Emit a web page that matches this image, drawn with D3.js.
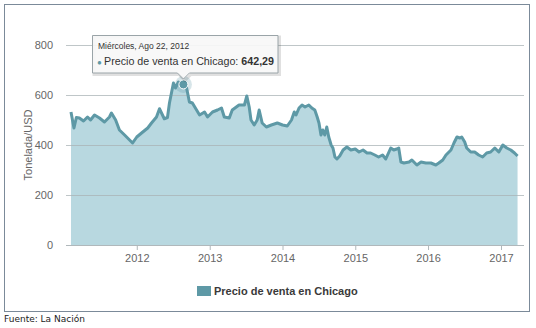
<!DOCTYPE html>
<html><head><meta charset="utf-8">
<script src="https://cdn.jsdelivr.net/npm/d3@7"></script>
<style>
html,body{margin:0;padding:0;background:#fff;}
svg{display:block;font-family:"Liberation Sans",Arial,sans-serif;}
</style></head>
<body>
<svg id="c" width="536" height="328"></svg>
<script>
const dates = ["2011-02-05","2011-02-20","2011-03-04","2011-03-19","2011-04-09","2011-04-29","2011-05-14","2011-06-03","2011-06-28","2011-07-23","2011-08-17","2011-08-27","2011-09-17","2011-10-06","2011-11-01","2011-11-26","2011-12-11","2012-01-01","2012-01-25","2012-02-25","2012-03-15","2012-04-09","2012-04-24","2012-05-18","2012-06-03","2012-06-13","2012-07-03","2012-07-13","2012-07-28","2012-08-22","2012-09-06","2012-09-21","2012-10-06","2012-10-27","2012-11-11","2012-12-06","2012-12-21","2013-01-15","2013-02-09","2013-03-01","2013-03-15","2013-04-09","2013-04-24","2013-05-28","2013-06-24","2013-07-06","2013-07-18","2013-07-27","2013-08-12","2013-08-27","2013-09-06","2013-09-21","2013-10-12","2013-11-06","2013-12-06","2014-01-01","2014-01-25","2014-02-15","2014-03-01","2014-03-10","2014-03-25","2014-04-09","2014-04-24","2014-05-13","2014-05-28","2014-06-12","2014-06-24","2014-07-03","2014-07-13","2014-07-22","2014-08-01","2014-08-11","2014-08-21","2014-09-02","2014-09-11","2014-09-21","2014-10-01","2014-10-15","2014-11-01","2014-11-20","2014-12-10","2015-01-01","2015-01-20","2015-02-09","2015-03-01","2015-03-19","2015-04-09","2015-04-28","2015-05-18","2015-06-03","2015-06-28","2015-07-13","2015-07-28","2015-08-07","2015-08-18","2015-09-02","2015-09-28","2015-10-12","2015-11-06","2015-11-27","2015-12-21","2016-01-15","2016-02-09","2016-02-24","2016-03-15","2016-03-31","2016-04-25","2016-05-10","2016-05-25","2016-06-09","2016-06-18","2016-07-03","2016-07-13","2016-08-02","2016-08-22","2016-09-11","2016-10-01","2016-10-21","2016-11-10","2016-12-01","2016-12-21","2017-01-10","2017-01-30","2017-02-19","2017-03-10","2017-03-25"];
const prices = [532,468,510,508,496,512,500,520,508,492,512,528,500,460,440,420,408,432,448,468,488,512,545,505,510,568,648,628,652,642.29,632,572,568,540,520,532,512,532,540,548,512,508,540,560,560,596,552,500,480,500,540,488,472,480,488,480,476,500,532,520,548,560,552,560,548,540,512,488,440,460,440,472,432,400,388,352,344,356,380,392,380,384,372,380,368,368,360,352,360,344,388,380,384,388,332,328,332,340,320,332,328,328,320,328,340,360,380,408,432,428,432,412,388,372,372,360,352,368,372,388,372,400,388,380,368,356];
const yTicks = [0,200,400,600,800];
const xTickYears = [2012,2013,2014,2015,2016,2017];
const seriesName = "Precio de venta en Chicago";
const yTitle = "Tonelada/USD";
const tooltipDate = "2012-08-22";
const tooltipTitle = "Miércoles, Ago 22, 2012";
const tooltipValue = "642,29";
const source = "Fuente: La Nación";

const parse = d3.timeParse("%Y-%m-%d");
const data = dates.map((d,i)=>({date:parse(d), v:prices[i]}));

const svg = d3.select("#c");
const lineCol = "#5e99a6", fillCol = "#b8d8e0";

// frame
svg.append("rect").attr("x",4.5).attr("y",4.5).attr("width",525).attr("height",307)
  .attr("fill","#fff").attr("stroke","#7b8a99").attr("stroke-width",1);

const x = d3.scaleTime().domain([new Date(2011,0,1), new Date(2017,0,1)]).range([64,501]);
const y = d3.scaleLinear().domain([0,800]).range([245,45]);
const plotL = 66, plotR = 524;

// area
svg.append("path").datum(data)
  .attr("d", d3.area().x(d=>x(d.date)).y0(y(0)).y1(d=>y(d.v)))
  .attr("fill", fillCol);

// gridlines
const yAxis = d3.axisLeft(y).tickValues(yTicks).tickSize(-(plotR-plotL)).tickPadding(13);
const gy = svg.append("g").attr("transform",`translate(${plotL},0)`).call(yAxis);
gy.select(".domain").remove();
gy.selectAll(".tick line").attr("stroke","#a9b3b6").attr("stroke-opacity",0.75).attr("stroke-width",1);
gy.selectAll(".tick text").attr("fill","#666").attr("font-size","11px").attr("font-family","Liberation Sans, Arial, sans-serif");

// line
svg.append("path").datum(data)
  .attr("d", d3.line().x(d=>x(d.date)).y(d=>y(d.v)))
  .attr("fill","none").attr("stroke",lineCol).attr("stroke-width",3).attr("stroke-linejoin","round");

// x axis
const xAxis = d3.axisBottom(x).tickValues(xTickYears.map(yr=>new Date(yr,0,1))).tickFormat(d3.timeFormat("%Y")).tickSize(5).tickPadding(4);
const gx = svg.append("g").attr("transform",`translate(0,${y(0)})`).call(xAxis);
gx.select(".domain").attr("d",`M${plotL},0.5H${plotR}`).attr("stroke","#b0b8bb");
gx.selectAll(".tick line").attr("stroke","#b0b8bb");
gx.selectAll(".tick text").attr("fill","#666").attr("font-size","11px").attr("font-family","Liberation Sans, Arial, sans-serif");

// y title
svg.append("text").attr("transform","translate(32,145) rotate(-90)")
  .attr("text-anchor","middle").attr("fill","#666").attr("font-size","11px").text(yTitle);

// hover marker
const tp = data.find(d=>+d.date===+parse(tooltipDate));
const mx = x(tp.date), my = y(tp.v);
svg.append("circle").attr("cx",mx).attr("cy",my).attr("r",8.5).attr("fill",lineCol).attr("fill-opacity",0.25);
svg.append("circle").attr("cx",mx).attr("cy",my).attr("r",4.5).attr("fill",lineCol).attr("stroke","#fff").attr("stroke-width",1);

// tooltip
const tx0 = 92, ty0 = 35, tw = 186, th = 38;
const tg = svg.append("g");
const tipPath = `M${tx0+0.5},${ty0+0.5}H${tx0+tw}V${ty0+th}H${mx+6}L${mx},${ty0+th+6}L${mx-6},${ty0+th}H${tx0+0.5}Z`;
tg.append("path").attr("d",tipPath).attr("transform","translate(1.5,1.5)").attr("fill","none").attr("stroke","#000").attr("stroke-opacity",0.12).attr("stroke-width",3);
tg.append("path").attr("d",tipPath).attr("fill","#f7f7f7").attr("fill-opacity",0.92).attr("stroke","#9aa4a8").attr("stroke-width",1);
tg.append("text").attr("x",tx0+6).attr("y",ty0+14).attr("font-size","8.5px").attr("fill","#333").text(tooltipTitle);
const t2 = tg.append("text").attr("x",tx0+5).attr("y",ty0+30).attr("font-size","10.7px").attr("fill","#333");
t2.append("tspan").attr("fill",lineCol).text("● ").attr("font-size","8px");
t2.append("tspan").text(seriesName + ": ");
t2.append("tspan").attr("font-weight","bold").text(tooltipValue);

// legend
svg.append("rect").attr("x",197).attr("y",286).attr("width",14).attr("height",10).attr("fill",lineCol);
svg.append("text").attr("x",214).attr("y",295).attr("font-size","11px").attr("font-weight","bold").attr("fill","#3a3a3a").text(seriesName);

// source
svg.append("text").attr("x",4).attr("y",322).attr("font-size","9px").attr("fill","#222").attr("font-family","DejaVu Sans, sans-serif").text(source);
</script>
</body></html>
